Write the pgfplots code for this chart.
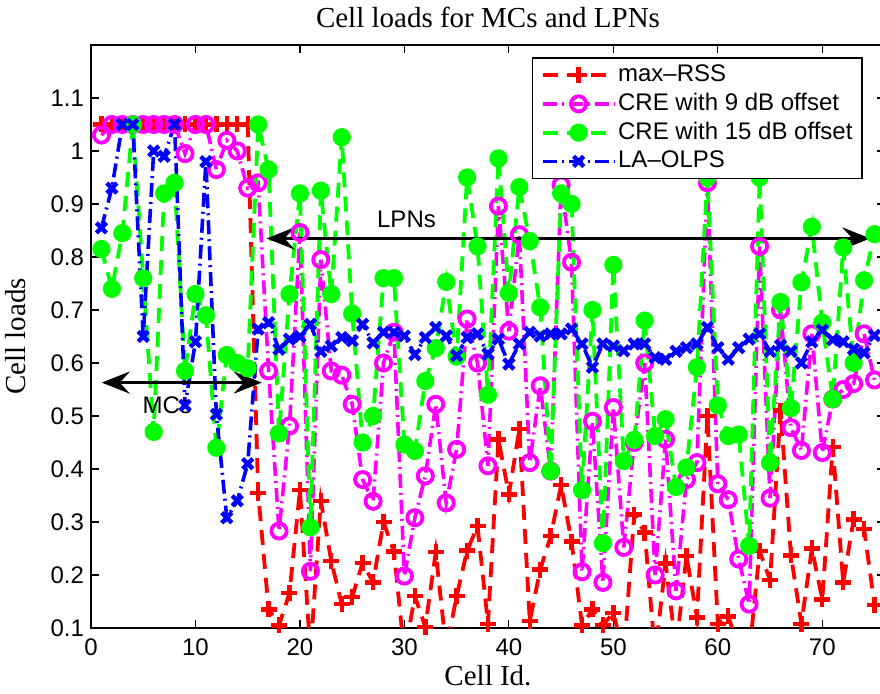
\documentclass[border=0pt]{standalone}
\usepackage{fontspec}
\setmainfont{Liberation Serif}
\setsansfont{Liberation Sans}
\usepackage{pgfplots}
\usepackage{pgfplotstable}
\pgfplotsset{compat=1.18}
\usetikzlibrary{arrows.meta}
\definecolor{mred}{rgb}{1,0,0}
\definecolor{mmag}{rgb}{1,0,1}
\definecolor{mgrn}{rgb}{0,1,0}
\definecolor{mblu}{rgb}{0,0,1}

\pgfplotstableread{
x red mag grn blu
1 1.05 1.03 0.815 0.855
2 1.05 1.05 0.74 0.93
3 1.05 1.05 0.845 1.05
4 1.05 1.05 1.05 1.05
5 1.05 1.05 0.76 0.65
6 1.05 1.05 0.47 1.0
7 1.05 1.05 0.92 0.99
8 1.05 1.05 0.94 1.05
9 1.05 0.995 0.585 0.52
10 1.05 1.05 0.73 0.64
11 1.05 1.05 0.69 0.98
12 1.05 0.965 0.44 0.503
13 1.05 1.02 0.615 0.308
14 1.05 1.0 0.6 0.34
15 1.05 0.93 0.59 0.41
16 0.355 0.94 1.05 0.664
17 0.135 0.585 0.965 0.676
18 0.105 0.283 0.467 0.626
19 0.166 0.481 0.73 0.645
20 0.36 0.846 0.92 0.65
21 0.05 0.207 0.29 0.673
22 0.34 0.795 0.925 0.622
23 0.226 0.585 0.73 0.632
24 0.145 0.577 1.026 0.648
25 0.158 0.522 0.693 0.642
26 0.223 0.38 0.45 0.673
27 0.186 0.339 0.5 0.638
28 0.30 0.60 0.76 0.658
29 0.244 0.658 0.76 0.658
30 0.05 0.198 0.446 0.651
31 0.16 0.308 0.434 0.616
32 0.102 0.387 0.566 0.648
33 0.243 0.522 0.628 0.667
34 0.06 0.336 0.753 0.651
35 0.16 0.437 0.612 0.614
36 0.246 0.683 0.95 0.648
37 0.292 0.6 0.82 0.655
38 0.108 0.406 0.54 0.617
39 0.456 0.896 0.986 0.645
40 0.352 0.66 0.732 0.598
41 0.475 0.842 0.932 0.636
42 0.113 0.412 0.83 0.658
43 0.21 0.557 0.705 0.651
44 0.273 0.396 0.396 0.655
45 0.37 0.936 0.92 0.655
46 0.263 0.79 0.9 0.664
47 0.105 0.206 0.36 0.636
48 0.135 0.49 0.70 0.592
49 0.106 0.186 0.26 0.636
50 0.128 0.516 0.785 0.632
51 0.05 0.252 0.415 0.623
52 0.314 0.45 0.455 0.636
53 0.28 0.60 0.68 0.636
54 0.05 0.20 0.462 0.61
55 0.222 0.456 0.494 0.607
56 0.06 0.17 0.366 0.622
57 0.236 0.38 0.403 0.629
58 0.12 0.412 0.592 0.636
59 0.5 0.94 0.95 0.667
60 0.108 0.372 0.52 0.629
61 0.122 0.342 0.462 0.607
62 0.06 0.23 0.465 0.629
63 0.05 0.145 0.255 0.645
64 0.245 0.82 0.95 0.655
65 0.19 0.345 0.412 0.622
66 0.51 0.70 0.715 0.633
67 0.237 0.478 0.515 0.622
68 0.108 0.435 0.752 0.6
69 0.25 0.655 0.857 0.64
70 0.154 0.431 0.676 0.662
71 0.442 0.532 0.532 0.644
72 0.186 0.55 0.818 0.64
73 0.305 0.561 0.6 0.626
74 0.287 0.655 0.756 0.619
75 0.143 0.568 0.843 0.652
}\data

\begin{document}
\begin{tikzpicture}
\begin{axis}[
  scale only axis,
  width=397pt, height=291.5pt,
  xmin=0, xmax=76, ymin=0.1, ymax=1.2,
  xtick={0,10,20,30,40,50,60,70},
  ytick={0.1,0.2,0.3,0.4,0.5,0.6,0.7,0.8,0.9,1,1.1},
  yticklabels={0.1,0.2,0.3,0.4,0.5,0.6,0.7,0.8,0.9,1,1.1},
  tick align=inside,
  major tick length=4pt,
  tick style={black, line width=0.6pt},
  axis line style={line width=0.8pt},
  /pgf/number format/assume math mode=true,
  tick label style={font=\sffamily\fontsize{12}{14}\selectfont},
  xticklabel style={yshift=-2pt},
  title={Cell loads for MCs and LPNs},
  title style={font=\fontsize{14.5}{16}\selectfont, at={(axis description cs:0.5,1)}, anchor=base, yshift=2.5pt},
  xlabel={Cell Id.},
  xlabel style={font=\fontsize{14.5}{16}\selectfont, at={(axis description cs:0.5,0)}, anchor=base, yshift=-29pt},
  ylabel={Cell loads},
  ylabel style={font=\fontsize{14.5}{16}\selectfont, at={(axis description cs:-0.095,0.5)}, anchor=center},
  legend cell align=left,
  legend style={at={(axis description cs:0.5555,0.979)}, anchor=north west,
    font=\sffamily\fontsize{12}{14}\selectfont, draw=black, line width=0.7pt,
    inner xsep=4pt, inner ysep=2pt, row sep=1.3pt,
    nodes={inner sep=0.8pt, text height=9pt, text depth=2.5pt}},
  legend image code/.code={\draw[mark repeat=2,mark phase=2] plot coordinates {(0pt,0pt) (18pt,0pt) (36pt,0pt)};},
]
\addplot[mred, line width=1.9pt, dash pattern=on 7.5pt off 4.5pt, mark=+, mark size=4pt, mark options={solid, line width=2.2pt}] table[x=x,y=red]{\data};
\addlegendentry{max--RSS}
\addplot[mmag, line width=1.8pt, dash pattern=on 7pt off 2.5pt on 1pt off 2.5pt, mark=o, mark size=3.8pt, mark options={solid, line width=1.9pt}] table[x=x,y=mag]{\data};
\addlegendentry{CRE with 9 dB offset}
\addplot[mgrn, line width=1.9pt, dash pattern=on 7.5pt off 4.5pt, mark=*, mark size=3.6pt, mark options={solid, fill=mgrn, draw=mgrn}] table[x=x,y=grn]{\data};
\addlegendentry{CRE with 15 dB offset}
\addplot[mblu, line width=1.8pt, dash pattern=on 7pt off 2.5pt on 1pt off 2.5pt, mark=x, mark size=3.6pt, mark options={solid, line width=2.2pt}] table[x=x,y=blu]{\data};
\addlegendentry{LA--OLPS}
\draw[black, line width=1.8pt, {Stealth[length=14pt,width=11pt,inset=5pt]}-{Stealth[length=14pt,width=11pt,inset=5pt]}] (axis cs:1.03,0.563) -- (axis cs:16.35,0.563);
\draw[black, line width=1.8pt, {Stealth[length=14pt,width=11pt,inset=5pt]}-{Stealth[length=14pt,width=11pt,inset=5pt]}] (axis cs:16.8,0.835) -- (axis cs:74.6,0.835);
\node[font=\sffamily\fontsize{12}{14}\selectfont] at (axis cs:30.2,0.871) {LPNs};
\node[font=\sffamily\fontsize{12}{14}\selectfont] at (axis cs:7.3,0.521) {MCs};
\end{axis}
\pgfresetboundingbox
\path[use as bounding box] (-45.5pt,-33pt) rectangle (394.5pt,314pt);
\end{tikzpicture}
\end{document}
